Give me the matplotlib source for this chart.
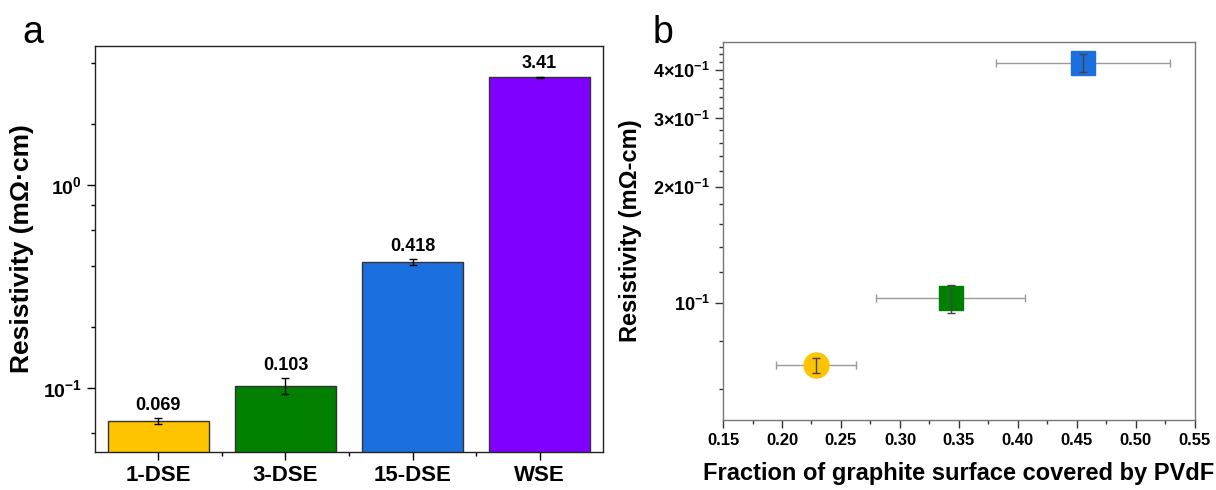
import numpy as np
import matplotlib
matplotlib.use("Agg")
import matplotlib.pyplot as plt
from matplotlib.ticker import FixedLocator, NullFormatter

plt.rcParams["font.family"] = ["Liberation Sans", "DejaVu Sans"]
plt.rcParams["mathtext.fontset"] = "custom"
plt.rcParams["mathtext.rm"] = "Liberation Sans"
plt.rcParams["mathtext.bf"] = "Liberation Sans:bold"

# panel a: bar data
samples = ["1-DSE", "3-DSE", "15-DSE", "WSE"]
resistivity = [0.069, 0.103, 0.418, 3.41]
resistivity_err = [0.0025, 0.009, 0.015, 0.02]
value_labels = ["0.069", "0.103", "0.418", "3.41"]
bar_colors = ["#FFC400", "#007F00", "#1B6FDE", "#7F00FF"]

# panel b: resistivity vs PVdF coverage
coverage = [0.229, 0.343, 0.455]
coverage_err = [0.034, 0.063, 0.074]
res_b = [0.069, 0.103, 0.418]
res_b_err = [0.003, 0.0085, 0.023]
markers_b = ["o", "s", "s"]
colors_b = ["#FFC400", "#007F00", "#1B6FDE"]

fig = plt.figure(figsize=(12.16, 4.9), dpi=100)

# ---------------- panel a ----------------
ax1 = fig.add_axes([0.078, 0.078, 0.418, 0.828])
x = np.arange(len(samples))
ax1.bar(x, resistivity, width=0.8, color=bar_colors, edgecolor="#333333",
        linewidth=1.0, zorder=2)
ax1.errorbar(x, resistivity, yerr=resistivity_err, fmt="none", ecolor="black",
             elinewidth=1.0, capsize=3, capthick=1.0, zorder=3)
for xi, v, e, lab in zip(x, resistivity, resistivity_err, value_labels):
    ax1.annotate(lab, (xi, v + e), xytext=(0, 3), textcoords="offset points",
                 ha="center", va="bottom", fontsize=13, fontweight="bold")
ax1.set_yscale("log")
ax1.set_ylim(0.0487, 4.85)
ax1.set_xlim(-0.5, 3.5)
ax1.set_xticks(x)
ax1.set_xticklabels(samples, fontsize=16, fontweight="bold")
ax1.xaxis.set_minor_locator(FixedLocator([0.5, 1.5, 2.5]))
ax1.yaxis.set_major_locator(FixedLocator([0.1, 1.0]))
ax1.set_yticklabels([r"$\mathbf{10^{-1}}$", r"$\mathbf{10^{0}}$"], fontsize=14)
ax1.yaxis.set_minor_locator(FixedLocator([0.06, 0.2, 0.4, 0.6, 0.8, 2, 4]))
ax1.yaxis.set_minor_formatter(NullFormatter())
ax1.tick_params(axis="both", which="major", direction="out", length=6, width=1,
                top=False, right=False)
ax1.tick_params(axis="both", which="minor", direction="out", length=3, width=1,
                top=False, right=False)
ax1.set_ylabel("Resistivity (m\u03a9\u00b7cm)", fontsize=19, fontweight="bold",
               labelpad=6)
for s in ax1.spines.values():
    s.set_linewidth(1.0)
    s.set_color("#222222")
fig.text(0.018, 0.97, "a", fontsize=27, va="top", ha="left")

# ---------------- panel b ----------------
ax2 = fig.add_axes([0.5946, 0.143, 0.388, 0.771])
for cx, cxe, ry, rye, m, c in zip(coverage, coverage_err, res_b, res_b_err,
                                  markers_b, colors_b):
    ax2.errorbar(cx, ry, xerr=cxe, fmt="none", ecolor="#999999",
                 elinewidth=1.0, capsize=3, capthick=1.0, zorder=2)
    ax2.plot(cx, ry, marker=m, markersize=18 if m == "o" else 17, color=c,
             markeredgecolor=c, linestyle="none", zorder=3)
    ax2.errorbar(cx, ry, yerr=rye, fmt="none", ecolor="#444444",
                 elinewidth=1.0, capsize=3, capthick=1.0, zorder=4)
ax2.set_yscale("log")
ax2.set_xlim(0.15, 0.55)
ax2.set_ylim(0.0499, 0.4725)
ax2.set_xticks(np.arange(0.15, 0.551, 0.05))
ax2.set_xticklabels([f"{t:.2f}" for t in np.arange(0.15, 0.551, 0.05)],
                    fontsize=12, fontweight="bold")
ax2.xaxis.set_minor_locator(FixedLocator(np.arange(0.175, 0.55, 0.05)))
ax2.yaxis.set_major_locator(FixedLocator([0.1, 0.2, 0.3, 0.4]))
ax2.set_yticklabels([r"$\mathbf{10^{-1}}$",
                     r"$\mathbf{2{\times}10^{-1}}$",
                     r"$\mathbf{3{\times}10^{-1}}$",
                     r"$\mathbf{4{\times}10^{-1}}$"], fontsize=13)
minor_b = [0.06, 0.08, 0.12, 0.14, 0.16, 0.18, 0.22, 0.24, 0.26, 0.28,
           0.32, 0.34, 0.36, 0.38, 0.42, 0.44, 0.46]
ax2.yaxis.set_minor_locator(FixedLocator(minor_b))
ax2.yaxis.set_minor_formatter(NullFormatter())
ax2.tick_params(axis="both", which="major", direction="out", length=6, width=1,
                top=False, right=False, colors="#333333", labelcolor="black")
ax2.tick_params(axis="both", which="minor", direction="out", length=3, width=1,
                top=False, right=False, colors="#333333")
ax2.set_xlabel("Fraction of graphite surface covered by PVdF", fontsize=17,
               fontweight="bold", labelpad=10)
ax2.set_ylabel("Resistivity (m\u03a9-cm)", fontsize=17, fontweight="bold",
               labelpad=8)
for s in ax2.spines.values():
    s.set_linewidth(1.0)
    s.set_color("#777777")
fig.text(0.537, 0.97, "b", fontsize=27, va="top", ha="left")

fig.savefig("out.png", dpi=100)
